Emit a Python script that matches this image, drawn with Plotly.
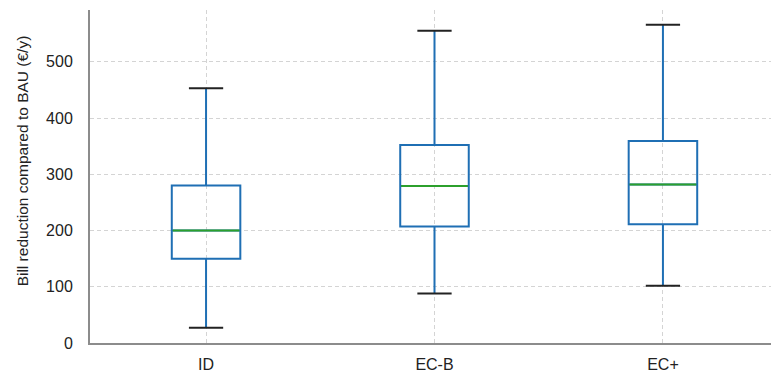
import plotly.graph_objects as go

categories = ["ID", "EC-B", "EC+"]
lower_whisker = [27, 88, 102]
q1 = [150, 207, 211]
median = [200, 279, 282]
q3 = [280, 352, 359]
upper_whisker = [453, 555, 566]

pos = list(range(len(categories)))
box_w = 0.30
cap_w = 0.15

BLUE = "#1f6fb4"
GREEN = "#2ca02c"
BLACK = "#222222"

fig = go.Figure()
fig.add_trace(go.Box(
    x=pos, q1=q1, median=median, q3=q3,
    lowerfence=lower_whisker, upperfence=upper_whisker,
    width=box_w, whiskerwidth=0,
    line=dict(color=BLUE, width=2), fillcolor="rgba(0,0,0,0)",
    boxpoints=False, hoverinfo="skip", showlegend=False,
))

for i, p in enumerate(pos):
    for v in (lower_whisker[i], upper_whisker[i]):
        fig.add_trace(go.Scatter(
            x=[p - cap_w / 2, p + cap_w / 2], y=[v, v], mode="lines",
            line=dict(color=BLACK, width=2), showlegend=False, hoverinfo="skip"))
    fig.add_trace(go.Scatter(
        x=[p - box_w / 2 + 0.004, p + box_w / 2 - 0.004], y=[median[i], median[i]], mode="lines",
        line=dict(color=GREEN, width=2), showlegend=False, hoverinfo="skip"))

fig.add_annotation(
    text="Bill reduction compared to BAU (€/y)", textangle=-90,
    xref="paper", yref="paper", x=-0.0991, y=0.547,
    xanchor="center", yanchor="middle", showarrow=False,
    font=dict(size=15.5, color="#222222"),
)

fig.update_layout(
    width=771, height=374,
    margin=dict(l=90, r=0, t=10, b=31),
    plot_bgcolor="white", paper_bgcolor="white",
    font=dict(family="Liberation Sans, Arial, sans-serif", size=16, color="#222222"),
    xaxis=dict(
        range=[-0.508, 2.473], tickmode="array", tickvals=pos, ticktext=categories,
        showgrid=True, gridcolor="#d4d4d4", griddash="4px,3px", gridwidth=1,
        showline=True, linecolor="#8c8c8c", linewidth=2, ticks="", zeroline=False,
        ticklabelstandoff=6, tickfont=dict(size=16),
    ),
    yaxis=dict(
        range=[0, 592], tickvals=[0, 100, 200, 300, 400, 500],
        showgrid=True, gridcolor="#d4d4d4", griddash="4px,3px", gridwidth=1,
        showline=True, linecolor="#8c8c8c", linewidth=2, ticks="", zeroline=False,
        ticklabelstandoff=12, tickfont=dict(size=16),
    ),
)

fig.write_html("out.html")
